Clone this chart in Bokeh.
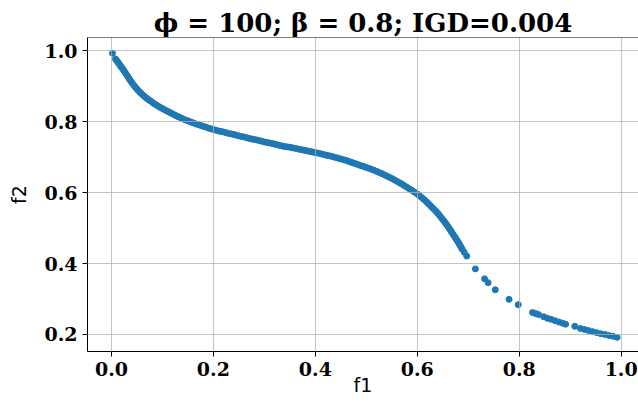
from bokeh.plotting import figure
from bokeh.models import FixedTicker, PrintfTickFormatter, Span, Range1d
from bokeh.embed import file_html
from bokeh.resources import INLINE

# Pareto front points: f1 values
f1 = [
    0.002,
    # steep upper-left part
    0.008, 0.010, 0.012, 0.014, 0.016, 0.018, 0.020, 0.0225, 0.025, 0.0275,
    0.030, 0.0325, 0.035, 0.0375, 0.040, 0.043, 0.046, 0.049, 0.052, 0.055,
    0.058, 0.0615, 0.065, 0.0685, 0.072, 0.076, 0.080, 0.084, 0.088, 0.092,
    0.096, 0.100, 0.104, 0.108, 0.112, 0.116, 0.120, 0.124, 0.128, 0.132,
    0.136,
    # flat middle part
    0.140, 0.145, 0.150, 0.155, 0.160, 0.165, 0.170, 0.175, 0.180, 0.185,
    0.190, 0.195, 0.200, 0.205, 0.210, 0.215, 0.220, 0.225, 0.230, 0.235,
    0.240, 0.245, 0.250, 0.255, 0.260, 0.265, 0.270, 0.275, 0.280, 0.285,
    0.290, 0.295, 0.300, 0.305, 0.310, 0.315, 0.320, 0.325, 0.330, 0.335,
    0.340, 0.345, 0.350, 0.355, 0.360, 0.365, 0.370, 0.375, 0.380, 0.385,
    0.390, 0.395, 0.400, 0.405, 0.410, 0.415, 0.420, 0.425, 0.430, 0.435,
    0.440, 0.445, 0.450, 0.455, 0.460, 0.465, 0.470, 0.475, 0.480, 0.485,
    0.490, 0.495, 0.500, 0.505, 0.510, 0.515, 0.520, 0.525, 0.530, 0.535,
    0.540, 0.545, 0.550, 0.555, 0.560, 0.565, 0.570, 0.575, 0.580, 0.585,
    0.590, 0.595, 0.600,
    # steep drop
    0.604, 0.608, 0.612, 0.616, 0.6195, 0.623, 0.6265, 0.630, 0.6335, 0.637,
    0.640, 0.643, 0.646, 0.649, 0.652, 0.655, 0.6575, 0.660, 0.6625, 0.665,
    0.6675, 0.670, 0.6725, 0.675, 0.6775, 0.680, 0.682, 0.684, 0.686, 0.688,
    # sparse tail
    0.692, 0.697, 0.714, 0.732, 0.739, 0.753, 0.780, 0.798, 0.826, 0.832,
    0.838, 0.848, 0.855, 0.862, 0.870, 0.878, 0.885, 0.891, 0.909, 0.920,
    0.928, 0.936, 0.944, 0.952, 0.960, 0.968, 0.976, 0.984, 0.992,
]

# matching f2 values
f2 = [
    0.993,
    0.977, 0.973, 0.969, 0.965, 0.961, 0.957, 0.953, 0.948, 0.943, 0.9375,
    0.932, 0.9265, 0.921, 0.9155, 0.910, 0.9045, 0.899, 0.894, 0.889, 0.8845,
    0.880, 0.8755, 0.871, 0.867, 0.863, 0.859, 0.855, 0.851, 0.847, 0.8435,
    0.840, 0.837, 0.834, 0.831, 0.828, 0.825, 0.822, 0.819, 0.816, 0.8135,
    0.811,
    0.808, 0.805, 0.8025, 0.7995, 0.797, 0.794, 0.792, 0.7895, 0.787, 0.785,
    0.782, 0.780, 0.778, 0.776, 0.774, 0.7725, 0.771, 0.769, 0.767, 0.7655,
    0.764, 0.762, 0.760, 0.7585, 0.757, 0.755, 0.753, 0.7515, 0.750, 0.7485,
    0.747, 0.745, 0.743, 0.7415, 0.740, 0.7385, 0.737, 0.735, 0.733, 0.7315,
    0.730, 0.729, 0.728, 0.7265, 0.725, 0.7235, 0.722, 0.7205, 0.719, 0.7175,
    0.716, 0.7145, 0.713, 0.7115, 0.710, 0.708, 0.706, 0.7045, 0.703, 0.701,
    0.699, 0.697, 0.695, 0.693, 0.691, 0.6885, 0.686, 0.6835, 0.681, 0.6785,
    0.676, 0.6735, 0.671, 0.6685, 0.666, 0.663, 0.660, 0.657, 0.654, 0.6505,
    0.647, 0.6435, 0.640, 0.636, 0.632, 0.628, 0.624, 0.6195, 0.615, 0.6105,
    0.606, 0.601, 0.596,
    0.5915, 0.587, 0.582, 0.577, 0.572, 0.567, 0.562, 0.557, 0.552, 0.547,
    0.542, 0.537, 0.5315, 0.526, 0.5205, 0.515, 0.510, 0.505, 0.4995, 0.494,
    0.4885, 0.483, 0.4775, 0.472, 0.4665, 0.461, 0.456, 0.451, 0.446, 0.441,
    0.432, 0.421, 0.385, 0.357, 0.346, 0.326, 0.299, 0.284, 0.262, 0.259,
    0.256, 0.250, 0.246, 0.243, 0.239, 0.235, 0.232, 0.229, 0.223, 0.217,
    0.214, 0.211, 0.208, 0.205, 0.202, 0.200, 0.197, 0.195, 0.192,
]
assert len(f1) == len(f2)

x_ticks = [0.0, 0.2, 0.4, 0.6, 0.8, 1.0]
y_ticks = [0.2, 0.4, 0.6, 0.8, 1.0]
title_text = "ϕ = 100; β = 0.8; IGD=0.004"

X0, X1 = -0.047, 1.034
Y0, Y1 = 0.152, 1.0375

p = figure(width=638, height=407, output_backend="svg", toolbar_location=None,
           x_range=Range1d(X0, X1), y_range=Range1d(Y0, Y1),
           min_border_left=87, min_border_right=0, min_border_top=37,
           min_border_bottom=56)

p.title.text = title_text
p.title.text_font = "DejaVu Serif"
p.title.text_font_style = "bold"
p.title.text_font_size = "26px"
p.title.align = "center"
p.title.standoff = 0
p.title.text_color = "black"

p.outline_line_color = None
p.background_fill_color = "white"
p.border_fill_color = "white"

p.scatter(f1, f2, size=6, fill_color="#1f77b4", line_color="#1f77b4")

for ax in (p.xaxis[0], p.yaxis[0]):
    ax.major_label_text_font = "DejaVu Serif"
    ax.major_label_text_font_style = "bold"
    ax.major_label_text_font_size = "19px"
    ax.major_label_text_color = "black"
    ax.axis_label_text_font = "DejaVu Sans"
    ax.axis_label_text_font_style = "normal"
    ax.axis_label_text_font_size = "19px"
    ax.axis_label_text_color = "black"
    ax.major_tick_out = 5
    ax.major_tick_in = 0
    ax.minor_tick_out = 0
    ax.minor_tick_in = 0
    ax.axis_line_color = "black"
    ax.axis_line_width = 1
    ax.major_tick_line_color = "black"
    ax.formatter = PrintfTickFormatter(format="%.1f")
    ax.major_label_standoff = 5

p.xaxis[0].axis_label_standoff = -5
p.yaxis[0].axis_label_standoff = 11
p.xaxis[0].ticker = FixedTicker(ticks=x_ticks)
p.yaxis[0].ticker = FixedTicker(ticks=y_ticks)
p.xaxis.axis_label = "f1"
p.yaxis.axis_label = "f2"

p.xgrid.ticker = FixedTicker(ticks=x_ticks)
p.ygrid.ticker = FixedTicker(ticks=y_ticks)
for g in (p.xgrid[0], p.ygrid[0]):
    g.grid_line_color = "#b0b0b0"
    g.grid_line_width = 1
    g.grid_line_alpha = 0.75
    g.level = "annotation"

p.add_layout(Span(location=Y1, dimension="width", line_color="black", line_width=1))

open("out.html", "w").write(file_html(p, INLINE))
